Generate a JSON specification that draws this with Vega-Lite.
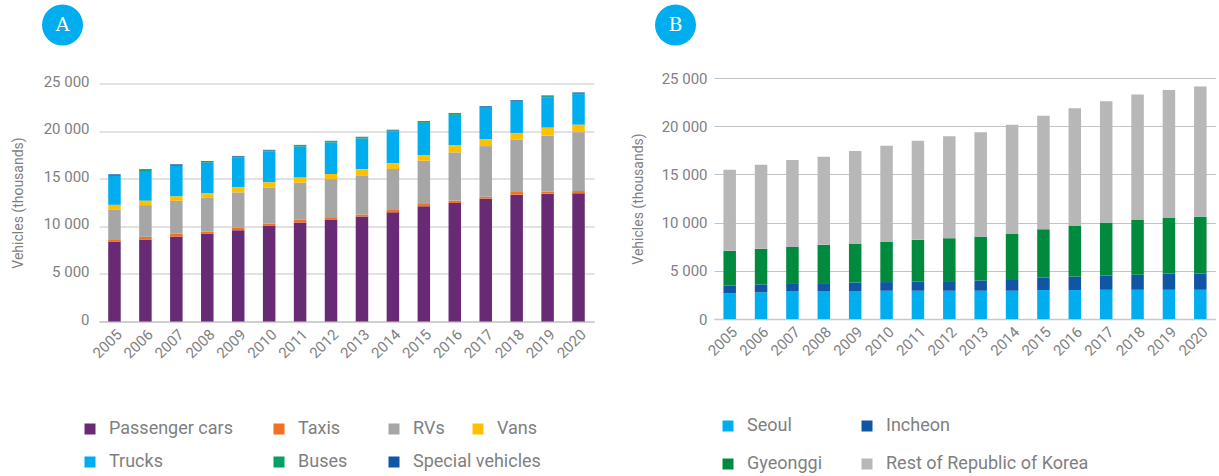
{"$schema":"https://vega.github.io/schema/vega-lite/v6.json","padding":{"left":11,"top":0,"right":0,"bottom":0},"spacing":37,"resolve":{"scale":{"color":"independent","fill":"independent","x":"independent","y":"independent"},"legend":{"color":"independent","fill":"independent"}},"config":{"view":{"stroke":null},"font":"Roboto","axis":{"labelFont":"Roboto","titleFont":"Roboto","labelColor":"#7f7f7f","titleColor":"#7f7f7f"},"legend":{"labelFont":"Roboto","labelColor":"#7f7f7f"}},"datasets":{"a":[{"year":"2005","type":"Passenger cars","v":8400},{"year":"2005","type":"Taxis","v":245},{"year":"2005","type":"RVs","v":3080},{"year":"2005","type":"Vans","v":525},{"year":"2005","type":"Trucks","v":3035},{"year":"2005","type":"Buses","v":100},{"year":"2005","type":"Special vehicles","v":75},{"year":"2006","type":"Passenger cars","v":8580},{"year":"2006","type":"Taxis","v":315},{"year":"2006","type":"RVs","v":3330},{"year":"2006","type":"Vans","v":455},{"year":"2006","type":"Trucks","v":3135},{"year":"2006","type":"Buses","v":100},{"year":"2006","type":"Special vehicles","v":75},{"year":"2007","type":"Passenger cars","v":8930},{"year":"2007","type":"Taxis","v":280},{"year":"2007","type":"RVs","v":3465},{"year":"2007","type":"Vans","v":455},{"year":"2007","type":"Trucks","v":3205},{"year":"2007","type":"Buses","v":100},{"year":"2007","type":"Special vehicles","v":75},{"year":"2008","type":"Passenger cars","v":9240},{"year":"2008","type":"Taxis","v":210},{"year":"2008","type":"RVs","v":3570},{"year":"2008","type":"Vans","v":470},{"year":"2008","type":"Trucks","v":3195},{"year":"2008","type":"Buses","v":100},{"year":"2008","type":"Special vehicles","v":75},{"year":"2009","type":"Passenger cars","v":9590},{"year":"2009","type":"Taxis","v":245},{"year":"2009","type":"RVs","v":3725},{"year":"2009","type":"Vans","v":520},{"year":"2009","type":"Trucks","v":3135},{"year":"2009","type":"Buses","v":100},{"year":"2009","type":"Special vehicles","v":75},{"year":"2010","type":"Passenger cars","v":10080},{"year":"2010","type":"Taxis","v":210},{"year":"2010","type":"RVs","v":3790},{"year":"2010","type":"Vans","v":530},{"year":"2010","type":"Trucks","v":3245},{"year":"2010","type":"Buses","v":100},{"year":"2010","type":"Special vehicles","v":75},{"year":"2011","type":"Passenger cars","v":10400},{"year":"2011","type":"Taxis","v":280},{"year":"2011","type":"RVs","v":3900},{"year":"2011","type":"Vans","v":530},{"year":"2011","type":"Trucks","v":3265},{"year":"2011","type":"Buses","v":100},{"year":"2011","type":"Special vehicles","v":75},{"year":"2012","type":"Passenger cars","v":10710},{"year":"2012","type":"Taxis","v":245},{"year":"2012","type":"RVs","v":4005},{"year":"2012","type":"Vans","v":530},{"year":"2012","type":"Trucks","v":3315},{"year":"2012","type":"Buses","v":100},{"year":"2012","type":"Special vehicles","v":75},{"year":"2013","type":"Passenger cars","v":11030},{"year":"2013","type":"Taxis","v":210},{"year":"2013","type":"RVs","v":4110},{"year":"2013","type":"Vans","v":640},{"year":"2013","type":"Trucks","v":3235},{"year":"2013","type":"Buses","v":100},{"year":"2013","type":"Special vehicles","v":75},{"year":"2014","type":"Passenger cars","v":11470},{"year":"2014","type":"Taxis","v":245},{"year":"2014","type":"RVs","v":4305},{"year":"2014","type":"Vans","v":600},{"year":"2014","type":"Trucks","v":3345},{"year":"2014","type":"Buses","v":100},{"year":"2014","type":"Special vehicles","v":75},{"year":"2015","type":"Passenger cars","v":12100},{"year":"2015","type":"Taxis","v":245},{"year":"2015","type":"RVs","v":4545},{"year":"2015","type":"Vans","v":595},{"year":"2015","type":"Trucks","v":3390},{"year":"2015","type":"Buses","v":100},{"year":"2015","type":"Special vehicles","v":75},{"year":"2016","type":"Passenger cars","v":12450},{"year":"2016","type":"Taxis","v":245},{"year":"2016","type":"RVs","v":5070},{"year":"2016","type":"Vans","v":770},{"year":"2016","type":"Trucks","v":3180},{"year":"2016","type":"Buses","v":100},{"year":"2016","type":"Special vehicles","v":75},{"year":"2017","type":"Passenger cars","v":12900},{"year":"2017","type":"Taxis","v":210},{"year":"2017","type":"RVs","v":5315},{"year":"2017","type":"Vans","v":735},{"year":"2017","type":"Trucks","v":3285},{"year":"2017","type":"Buses","v":100},{"year":"2017","type":"Special vehicles","v":75},{"year":"2018","type":"Passenger cars","v":13320},{"year":"2018","type":"Taxis","v":280},{"year":"2018","type":"RVs","v":5490},{"year":"2018","type":"Vans","v":700},{"year":"2018","type":"Trucks","v":3285},{"year":"2018","type":"Buses","v":100},{"year":"2018","type":"Special vehicles","v":75},{"year":"2019","type":"Passenger cars","v":13430},{"year":"2019","type":"Taxis","v":210},{"year":"2019","type":"RVs","v":5875},{"year":"2019","type":"Vans","v":840},{"year":"2019","type":"Trucks","v":3210},{"year":"2019","type":"Buses","v":100},{"year":"2019","type":"Special vehicles","v":75},{"year":"2020","type":"Passenger cars","v":13460},{"year":"2020","type":"Taxis","v":245},{"year":"2020","type":"RVs","v":6190},{"year":"2020","type":"Vans","v":770},{"year":"2020","type":"Trucks","v":3220},{"year":"2020","type":"Buses","v":100},{"year":"2020","type":"Special vehicles","v":75}],"b":[{"year":"2005","type":"Seoul","v":2690},{"year":"2005","type":"Incheon","v":790},{"year":"2005","type":"Gyeonggi","v":3590},{"year":"2005","type":"Rest of Republic of Korea","v":8410},{"year":"2006","type":"Seoul","v":2760},{"year":"2006","type":"Incheon","v":830},{"year":"2006","type":"Gyeonggi","v":3690},{"year":"2006","type":"Rest of Republic of Korea","v":8710},{"year":"2007","type":"Seoul","v":2900},{"year":"2007","type":"Incheon","v":820},{"year":"2007","type":"Gyeonggi","v":3760},{"year":"2007","type":"Rest of Republic of Korea","v":9020},{"year":"2008","type":"Seoul","v":2900},{"year":"2008","type":"Incheon","v":820},{"year":"2008","type":"Gyeonggi","v":3970},{"year":"2008","type":"Rest of Republic of Korea","v":9150},{"year":"2009","type":"Seoul","v":2900},{"year":"2009","type":"Incheon","v":890},{"year":"2009","type":"Gyeonggi","v":4000},{"year":"2009","type":"Rest of Republic of Korea","v":9630},{"year":"2010","type":"Seoul","v":2930},{"year":"2010","type":"Incheon","v":900},{"year":"2010","type":"Gyeonggi","v":4200},{"year":"2010","type":"Rest of Republic of Korea","v":9940},{"year":"2011","type":"Seoul","v":2930},{"year":"2011","type":"Incheon","v":970},{"year":"2011","type":"Gyeonggi","v":4310},{"year":"2011","type":"Rest of Republic of Korea","v":10270},{"year":"2012","type":"Seoul","v":2930},{"year":"2012","type":"Incheon","v":1000},{"year":"2012","type":"Gyeonggi","v":4450},{"year":"2012","type":"Rest of Republic of Korea","v":10580},{"year":"2013","type":"Seoul","v":2930},{"year":"2013","type":"Incheon","v":1070},{"year":"2013","type":"Gyeonggi","v":4550},{"year":"2013","type":"Rest of Republic of Korea","v":10820},{"year":"2014","type":"Seoul","v":2930},{"year":"2014","type":"Incheon","v":1210},{"year":"2014","type":"Gyeonggi","v":4690},{"year":"2014","type":"Rest of Republic of Korea","v":11310},{"year":"2015","type":"Seoul","v":3000},{"year":"2015","type":"Incheon","v":1310},{"year":"2015","type":"Gyeonggi","v":5000},{"year":"2015","type":"Rest of Republic of Korea","v":11770},{"year":"2016","type":"Seoul","v":3000},{"year":"2016","type":"Incheon","v":1410},{"year":"2016","type":"Gyeonggi","v":5250},{"year":"2016","type":"Rest of Republic of Korea","v":12210},{"year":"2017","type":"Seoul","v":3030},{"year":"2017","type":"Incheon","v":1490},{"year":"2017","type":"Gyeonggi","v":5480},{"year":"2017","type":"Rest of Republic of Korea","v":12590},{"year":"2018","type":"Seoul","v":3030},{"year":"2018","type":"Incheon","v":1560},{"year":"2018","type":"Gyeonggi","v":5690},{"year":"2018","type":"Rest of Republic of Korea","v":13020},{"year":"2019","type":"Seoul","v":3030},{"year":"2019","type":"Incheon","v":1690},{"year":"2019","type":"Gyeonggi","v":5760},{"year":"2019","type":"Rest of Republic of Korea","v":13270},{"year":"2020","type":"Seoul","v":3030},{"year":"2020","type":"Incheon","v":1690},{"year":"2020","type":"Gyeonggi","v":5900},{"year":"2020","type":"Rest of Republic of Korea","v":13500}]},"hconcat":[{"spacing":23.5,"resolve":{"scale":{"color":"independent","fill":"independent"},"legend":{"color":"independent","fill":"independent"}},"vconcat":[{"width":1,"height":50,"data":{"values":[{"panel":"A"}]},"layer":[{"mark":{"type":"point","filled":true,"size":1681,"color":"#00adef","opacity":1,"xOffset":-37},"encoding":{}},{"mark":{"type":"text","font":"DejaVu Serif","fontSize":19,"color":"white","xOffset":-37},"encoding":{"text":{"field":"panel"}}}]},{"width":495,"height":238,"data":{"name":"a"},"transform":[{"stack":"v","groupby":["year"],"as":["y0","y1"]}],"encoding":{"x":{"field":"year","type":"nominal","title":null,"axis":{"labelAngle":-45,"labelFontSize":15,"ticks":false,"domainColor":"#c8c8c8","domainWidth":1.5,"labelPadding":5}},"y":{"field":"y0","type":"quantitative","title":"Vehicles (thousands)","scale":{"domain":[0,25000]},"axis":{"values":[0,5000,10000,15000,20000,25000],"labelExpr":"replace(format(datum.value, ','), ',', ' ')","labelFontSize":15,"labelOffset":-2.5,"titleFontSize":14,"titleFontWeight":"normal","titlePadding":18,"ticks":false,"domain":false,"gridColor":"#c4c4c4","gridWidth":1,"labelPadding":10}},"y2":{"field":"y1"}},"layer":[{"transform":[{"filter":"datum.type !== 'Vans'"}],"mark":{"type":"bar","width":12.5},"encoding":{"color":{"field":"type","type":"nominal","scale":{"domain":["Passenger cars","Trucks","Taxis","Buses","RVs","Special vehicles"],"range":["#682a75","#00aeef","#f36f21","#00a163","#a6a6a6","#1155a5"]},"legend":{"title":null,"orient":"none","legendX":-18,"legendY":336.5,"columns":3,"gridAlign":"each","columnPadding":37,"rowPadding":15,"symbolType":"square","symbolSize":121,"symbolOpacity":1,"symbolStrokeWidth":0,"labelFontSize":18,"labelOffset":10,"labelLimit":300}}}},{"transform":[{"filter":"datum.type === 'Vans'"}],"mark":{"type":"bar","width":12.5},"encoding":{"fill":{"field":"type","type":"nominal","scale":{"domain":["Vans"],"range":["#ffc000"]},"legend":{"title":null,"orient":"none","legendX":370,"legendY":336.5,"symbolType":"square","symbolSize":121,"symbolOpacity":1,"symbolStrokeWidth":0,"labelFontSize":18,"labelOffset":10}}}}]}]},{"spacing":21,"resolve":{"scale":{"color":"independent"},"legend":{"color":"independent"}},"vconcat":[{"width":1,"height":50,"data":{"values":[{"panel":"B"}]},"layer":[{"mark":{"type":"point","filled":true,"size":1681,"color":"#00adef","opacity":1,"xOffset":-39},"encoding":{}},{"mark":{"type":"text","font":"DejaVu Serif","fontSize":19,"color":"white","xOffset":-39},"encoding":{"text":{"field":"panel"}}}]},{"width":502,"height":241,"data":{"name":"b"},"transform":[{"stack":"v","groupby":["year"],"as":["y0","y1"]}],"mark":{"type":"bar","width":12.5},"encoding":{"x":{"field":"year","type":"nominal","title":null,"axis":{"labelAngle":-45,"labelFontSize":15,"ticks":false,"domainColor":"#c8c8c8","domainWidth":1.5,"labelPadding":5}},"y":{"field":"y0","type":"quantitative","title":"Vehicles (thousands)","scale":{"domain":[0,25000]},"axis":{"values":[0,5000,10000,15000,20000,25000],"labelExpr":"replace(format(datum.value, ','), ',', ' ')","labelFontSize":15,"titleFontSize":14,"titleFontWeight":"normal","titlePadding":16,"ticks":false,"domain":false,"gridColor":"#c4c4c4","gridWidth":1,"labelPadding":7}},"y2":{"field":"y1"},"color":{"field":"type","type":"nominal","scale":{"domain":["Seoul","Gyeonggi","Incheon","Rest of Republic of Korea"],"range":["#00aeef","#008a3e","#1155a5","#b7b7b7"]},"legend":{"title":null,"orient":"none","legendX":5,"legendY":339,"columns":2,"gridAlign":"each","columnPadding":35,"rowPadding":20,"symbolType":"square","symbolSize":121,"symbolOpacity":1,"symbolStrokeWidth":0,"labelFontSize":18,"labelOffset":10,"labelLimit":300}}}}]}]}
